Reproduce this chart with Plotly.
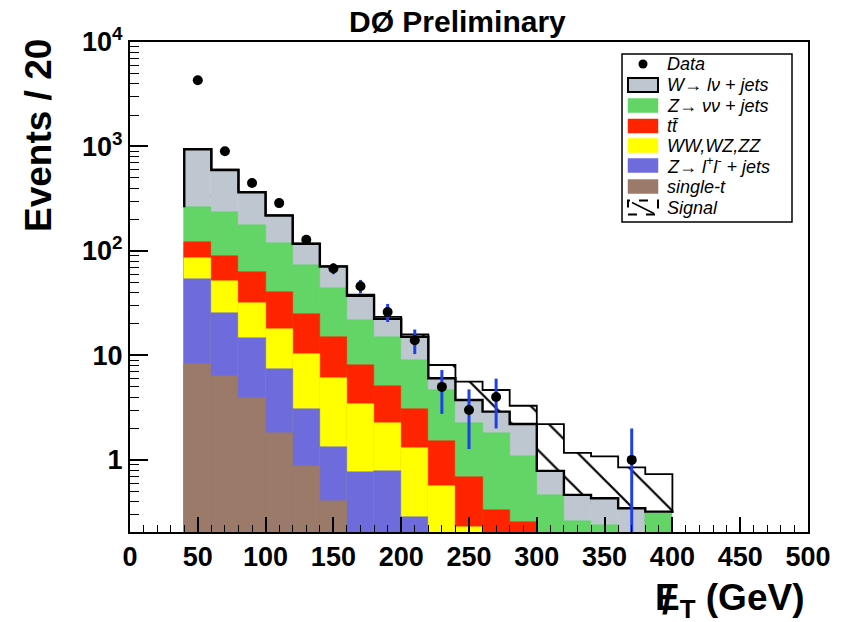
import numpy as np
import plotly.graph_objects as go

# ---------------- data ----------------
bin_low = [40, 60, 80, 100, 120, 140, 160, 180, 200, 220, 240, 260, 280, 300, 320, 340, 360, 380]
bin_width = 20

# cumulative heights of the stacked histogram (top of each layer)
top_signal = [945, 600, 367, 220, 118, 71.5, 38.2, 23.4, 15.9, 8.1, 5.61, 4.67, 3.3, 2.2, 1.17, 1.08, 0.85, 0.73]
top_wjets = [940, 596, 365, 218, 117, 70.8, 37.3, 22.4, 15.1, 6.05, 3.75, 2.9, 2.21, 0.785, 0.463, 0.43, 0.345, 0.32]
top_znunu = [262, 234, 177, 118, 73.5, 44.5, 21.9, 14.9, 9.06, 4.67, 2.24, 1.82, 1.09, 0.463, 0.26, 0.239, 0, 0.31]
top_ttbar = [121, 89.5, 63.4, 40.8, 25.0, 15.1, 8.1, 5.1, 3.1, 1.53, 0.683, 0.332, 0.257, 0, 0, 0, 0, 0]
top_diboson = [86.3, 51.6, 32.0, 18.1, 10.3, 6.13, 3.41, 2.28, 1.29, 0.568, 0.23, 0, 0, 0, 0, 0, 0, 0]
top_zll = [53.6, 25.3, 14.6, 7.38, 3.08, 1.32, 0.76, 0.79, 0.286, 0, 0, 0, 0, 0, 0, 0, 0, 0]
top_singlet = [8.24, 6.37, 3.89, 1.82, 0.88, 0.405, 0, 0, 0, 0, 0, 0, 0, 0, 0, 0, 0, 0]

data_x = [50, 70, 90, 110, 130, 150, 170, 190, 210, 230, 250, 270, 370]
data_y = [4300, 900, 447, 287, 128, 68, 46, 26, 14, 5, 3, 4, 1]
data_err = [66, 30, 21, 17, 11.3, 8.2, 6.8, 5.1, 3.7, 2.24, 1.73, 2.0, 1.0]

y_tick_vals = [1, 10, 100, 1000, 10000]
y_tick_text = ["1", "10", "10<sup>2</sup>", "10<sup>3</sup>", "10<sup>4</sup>"]
y_minor_vals = [k * 10.0 ** d for d in range(-1, 4) for k in range(2, 10)]
x_tick_vals = [0, 50, 100, 150, 200, 250, 300, 350, 400, 450, 500]

# ---------------- styling ----------------
C_W = "#bec6d0"
C_ZNN = "#62d566"
C_TT = "#ff2400"
C_VV = "#ffff00"
C_ZLL = "#6e6cdc"
C_ST = "#9b7a6a"
C_ERR = "#1f3fe8"
FONT = "Liberation Sans"

centers = [b + bin_width / 2 for b in bin_low]
fig = go.Figure()


def nz(vals):
    return [v if v > 0 else None for v in vals]


# signal (hatched) first, then the stack from largest to smallest
fig.add_trace(go.Bar(
    x=centers, y=nz(top_signal), width=bin_width,
    marker=dict(color="white", line=dict(width=0),
                pattern=dict(shape="\\", fgcolor="black", bgcolor="white", fgopacity=1,
                             size=26, solidity=0.085)),
    showlegend=False, hoverinfo="skip"))

for vals, col in [(top_wjets, C_W), (top_znunu, C_ZNN), (top_ttbar, C_TT),
                  (top_diboson, C_VV), (top_zll, C_ZLL), (top_singlet, C_ST)]:
    fig.add_trace(go.Bar(
        x=centers, y=nz(vals), width=bin_width,
        marker=dict(color=col, line=dict(color=col, width=0.5)),
        showlegend=False, hoverinfo="skip"))

# outlines (step lines)
edge_end = bin_low[-1] + bin_width
sx = bin_low + [edge_end, edge_end]
sy = top_signal + [top_signal[-1], top_wjets[-1]]
fig.add_trace(go.Scatter(x=sx, y=sy, mode="lines", line=dict(color="black", width=1.8, shape="hv"),
                         showlegend=False, hoverinfo="skip"))
gx = [bin_low[0]] + bin_low + [edge_end, edge_end]
gy = [top_znunu[0]] + top_wjets + [top_wjets[-1], top_znunu[-1]]
fig.add_trace(go.Scatter(x=gx, y=gy, mode="lines", line=dict(color="black", width=2.4, shape="hv"),
                         showlegend=False, hoverinfo="skip"))

# data points
err_lo = list(np.minimum(np.array(data_err), 0.999 * np.array(data_y)))
fig.add_trace(go.Scatter(
    x=data_x, y=data_y, mode="markers",
    marker=dict(color="black", size=10),
    error_y=dict(type="data", array=data_err, arrayminus=err_lo, color=C_ERR, thickness=3, width=0),
    showlegend=False, hoverinfo="skip"))

# ---------------- layout ----------------
L, R, T, B = 130, 808, 42, 532
W, H = 848, 622


def px(x, y):
    return (x - L) / (R - L), (B - y) / (B - T)


fig.update_layout(
    width=W, height=H,
    margin=dict(l=L, r=W - R, t=T, b=H - B),
    paper_bgcolor="white", plot_bgcolor="white",
    barmode="overlay", bargap=0,
    font=dict(family=FONT, color="black"),
    xaxis=dict(range=[0, 500], tickvals=x_tick_vals, ticks="inside", ticklen=15, tickwidth=1.5,
               tickcolor="black", showline=True, linecolor="black", linewidth=2, mirror=True,
               showgrid=False, zeroline=False,
               tickfont=dict(family=FONT, size=27, weight="bold", color="black"),
               minor=dict(ticks="inside", ticklen=7, tickwidth=1.2, dtick=10, tickcolor="black", showgrid=False)),
    yaxis=dict(type="log", range=[-0.69, 4], tickvals=y_tick_vals, ticktext=y_tick_text,
               ticks="inside", ticklen=18, tickwidth=1.5, tickcolor="black",
               showline=True, linecolor="black", linewidth=2, mirror=True,
               showgrid=False, zeroline=False,
               tickfont=dict(family=FONT, size=27, weight="bold", color="black"),
               minor=dict(ticks="inside", ticklen=9, tickwidth=1.2, tickcolor="black",
                          tickvals=y_minor_vals, showgrid=False)),
)

annotations = []
shapes = []

# title & axis titles
tx, ty = px(457, 22)
annotations.append(dict(x=tx, y=ty, xref="paper", yref="paper", text="<b>DØ Preliminary</b>",
                        showarrow=False, font=dict(size=30, family=FONT), xanchor="center", yanchor="middle"))
ax, ay = px(38, 136)
annotations.append(dict(x=ax, y=ay, xref="paper", yref="paper", text="<b>Events / 20</b>", textangle=-90,
                        showarrow=False, font=dict(size=37, family=FONT), xanchor="center", yanchor="middle"))
bx, by = px(806, 600)
annotations.append(dict(x=bx, y=by, xref="paper", yref="paper", text="<b>E<sub>T</sub> (GeV)</b>",
                        showarrow=False, font=dict(size=37, family=FONT), xanchor="right", yanchor="middle"))
sx_, sy_ = px(667, 601)
annotations.append(dict(x=sx_, y=sy_, xref="paper", yref="paper", text="<b>/</b>",
                        showarrow=False, font=dict(size=37, family=FONT), xanchor="center", yanchor="middle"))

# legend box
x0, y0 = px(622, 54)
x1, y1 = px(792, 222)
shapes.append(dict(type="rect", xref="paper", yref="paper", x0=x0, y0=y1, x1=x1, y1=y0,
                   line=dict(color="black", width=1.5), fillcolor="white", layer="above"))

legend_rows = [
    ("data", 64, "Data"),
    (C_W, 85, "W\u2192 l\u03bd + jets"),
    (C_ZNN, 105.5, "Z\u2192 \u03bd\u03bd + jets"),
    (C_TT, 126, "tt\u0304"),
    (C_VV, 145.5, "WW,WZ,ZZ"),
    (C_ZLL, 165.5, "Z\u2192 l<sup>+</sup>l<sup>-</sup> + jets"),
    (C_ST, 186.5, "single-t"),
    ("signal", 207.5, "Signal"),
]
for kind, yc, label in legend_rows:
    if kind == "data":
        cx, cy = px(643, yc)
        r = 4.5 / (R - L)
        rh = 4.5 / (B - T)
        shapes.append(dict(type="circle", xref="paper", yref="paper", x0=cx - r, x1=cx + r,
                           y0=cy - rh, y1=cy + rh, fillcolor="black", line=dict(width=0), layer="above"))
    else:
        ax0, ay0 = px(628, yc - 7)
        ax1, ay1 = px(658, yc + 7)
        if kind == "signal":
            shapes.append(dict(type="rect", xref="paper", yref="paper", x0=ax0, x1=ax1, y0=ay1, y1=ay0,
                               fillcolor="white", line=dict(color="black", width=2, dash="dash"), layer="above"))
            lx0, ly0 = px(632, yc - 5)
            lx1, ly1 = px(654, yc + 6)
            shapes.append(dict(type="line", xref="paper", yref="paper", x0=lx0, y0=ly0, x1=lx1, y1=ly1,
                               line=dict(color="black", width=1.5), layer="above"))
        else:
            lw = 2 if kind == C_W else 0
            shapes.append(dict(type="rect", xref="paper", yref="paper", x0=ax0, x1=ax1, y0=ay1, y1=ay0,
                               fillcolor=kind, line=dict(color="black" if lw else kind, width=lw if lw else 0.5),
                               layer="above"))
    tx, ty = px(665, yc)
    annotations.append(dict(x=tx, y=ty, xref="paper", yref="paper", text="<i>" + label + "</i>",
                            showarrow=False, font=dict(size=18, family=FONT), xanchor="left", yanchor="middle"))

fig.update_layout(annotations=annotations, shapes=shapes)
fig.write_html("out.html")
